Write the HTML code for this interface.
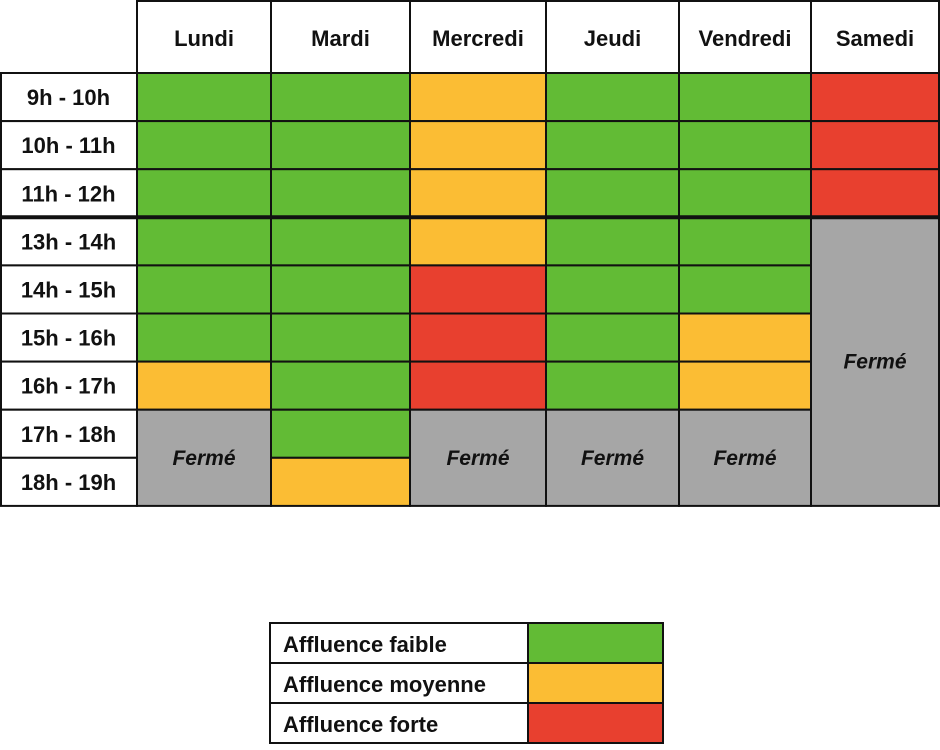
<!DOCTYPE html>
<html><head><meta charset="utf-8"><style>
html,body{margin:0;padding:0;background:#fff;}
svg text{font-family:"Liberation Sans",sans-serif;font-weight:bold;fill:#111;}
</style></head><body>
<svg id="chart" width="940" height="745"></svg>
<script>
const days = ["Lundi","Mardi","Mercredi","Jeudi","Vendredi","Samedi"];
const slots = ["9h - 10h","10h - 11h","11h - 12h","13h - 14h","14h - 15h","15h - 16h","16h - 17h","17h - 18h","18h - 19h"];
// 0 faible, 1 moyenne, 2 forte, -1 fermé
const lundi = [0,0,0,0,0,0,1,-1,-1];
const mardi = [0,0,0,0,0,0,0,0,1];
const mercredi = [1,1,1,1,2,2,2,-1,-1];
const jeudi = [0,0,0,0,0,0,0,-1,-1];
const vendredi = [0,0,0,0,0,1,1,-1,-1];
const samedi = [2,2,2,-1,-1,-1,-1,-1,-1];
const legendLabels = ["Affluence faible","Affluence moyenne","Affluence forte"];
const values = [lundi,mardi,mercredi,jeudi,vendredi,samedi];
const colors = ["#62bb35","#fbbd34","#e8402f"];
const colX = [137,271,410,546,679,811,939];
const y0 = 73, rowH = 48.1, headerTop = 1;
const NS = "http://www.w3.org/2000/svg";
const svg = document.getElementById("chart");
function el(tag, attrs, parent){const e=document.createElementNS(NS,tag);for(const k in attrs)e.setAttribute(k,attrs[k]);(parent||svg).appendChild(e);return e;}
function rowY(i){return y0 + i*rowH;}
// header cells
days.forEach((d,i)=>{
  const r = el("rect",{x:colX[i],y:headerTop,width:colX[i+1]-colX[i],height:y0-headerTop,fill:"#fff",stroke:"#111","stroke-width":2});
  
  
  const t = el("text",{x:(colX[i]+colX[i+1])/2,y:46,"text-anchor":"middle","font-size":22});
  t.textContent = d;
  
  
});
// row labels
slots.forEach((s,j)=>{
  const r = el("rect",{x:1,y:rowY(j),width:colX[0]-1,height:rowH,fill:"#fff",stroke:"#111","stroke-width":2});
  
  
  const t = el("text",{x:colX[0]/2,y:rowY(j)+rowH/2+8,"text-anchor":"middle","font-size":22});
  t.textContent = s;
  
  
});
// cells
values.forEach((col,i)=>{
  let j=0;
  while(j<col.length){
    const v=col[j];
    if(v>=0){
      const r = el("rect",{x:colX[i],y:rowY(j),width:colX[i+1]-colX[i],height:rowH,fill:colors[v],stroke:"#111","stroke-width":2});
      
      
      j++;
    } else {
      let k=j; while(k<col.length && col[k]<0) k++;
      const r = el("rect",{x:colX[i],y:rowY(j),width:colX[i+1]-colX[i],height:rowH*(k-j),fill:"#a6a6a6",stroke:"#111","stroke-width":2});
      
      
      const t = el("text",{x:(colX[i]+colX[i+1])/2,y:rowY(j)+rowH*(k-j)/2+7,"text-anchor":"middle","font-size":21,"font-style":"italic"});
      t.textContent = "Fermé";
      
      
      j=k;
    }
  }
});
// thick lunch separator
const sep = el("line",{x1:0,x2:940,y1:rowY(3),y2:rowY(3),stroke:"#111","stroke-width":4});


// legend
const lx0=270, lx1=528, lx2=663, ly0=623, lh=40;
legendLabels.forEach((lab,i)=>{
  const y=ly0+i*lh;
  const r1 = el("rect",{x:lx0,y:y,width:lx1-lx0,height:lh,fill:"#fff",stroke:"#111","stroke-width":2});
  
  
  const t = el("text",{x:lx0+13,y:y+29,"font-size":22});
  t.textContent = lab;
  
  
  const r2 = el("rect",{x:lx1,y:y,width:lx2-lx1,height:lh,fill:colors[i],stroke:"#111","stroke-width":2});
  
  
});
</script>
</body></html>
